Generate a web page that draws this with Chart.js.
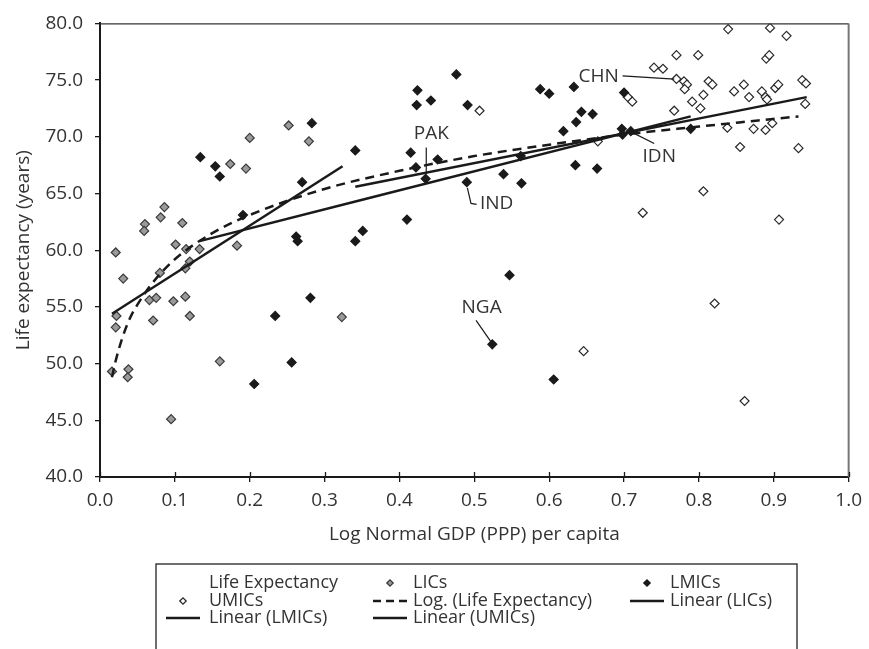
<!DOCTYPE html>
<html>
<head>
<meta charset="utf-8">
<script src="https://cdn.jsdelivr.net/npm/chart.js@4.4.1/dist/chart.umd.min.js"></script>
<style>
  html, body { margin: 0; padding: 0; background: #fff; }
  #wrap { width: 869px; height: 649px; }
</style>
</head>
<body>
<div id="wrap"><canvas id="chart" width="869" height="649"></canvas></div>
<script>
// data: [log normal GDP per capita, life expectancy]
const licPoints = [
  [0.016, 49.3], [0.021, 59.8], [0.031, 57.5], [0.022, 54.2], [0.021, 53.2], [0.038, 49.5],
  [0.037, 48.8], [0.060, 62.3], [0.059, 61.7], [0.081, 62.9], [0.086, 63.8], [0.110, 62.4],
  [0.101, 60.5], [0.115, 60.1], [0.133, 60.1], [0.183, 60.4], [0.120, 59.0], [0.114, 58.4],
  [0.080, 58.0], [0.066, 55.6], [0.075, 55.8], [0.098, 55.5], [0.114, 55.9], [0.071, 53.8],
  [0.120, 54.2], [0.095, 45.1], [0.160, 50.2], [0.174, 67.6], [0.195, 67.2], [0.200, 69.9],
  [0.252, 71.0], [0.279, 69.6], [0.323, 54.1]
];
const lmicPoints = [
  [0.134, 68.2], [0.154, 67.4], [0.160, 66.5], [0.191, 63.1], [0.270, 66.0], [0.262, 61.2],
  [0.264, 60.8], [0.281, 55.8], [0.234, 54.2], [0.206, 48.2], [0.256, 50.1], [0.283, 71.2],
  [0.341, 68.8], [0.415, 68.6], [0.451, 68.0], [0.422, 67.3], [0.435, 66.3], [0.490, 66.0],
  [0.539, 66.7], [0.563, 65.9], [0.562, 68.3], [0.635, 67.5], [0.410, 62.7], [0.351, 61.7],
  [0.341, 60.8], [0.547, 57.8], [0.524, 51.7], [0.606, 48.6], [0.476, 75.5], [0.424, 74.1],
  [0.423, 72.8], [0.442, 73.2], [0.491, 72.8], [0.588, 74.2], [0.600, 73.8], [0.633, 74.4],
  [0.643, 72.2], [0.658, 72.0], [0.636, 71.3], [0.619, 70.5], [0.700, 73.9], [0.697, 70.7],
  [0.698, 70.2], [0.709, 70.5], [0.664, 67.2], [0.789, 70.7]
];
const umicPoints = [
  [0.507, 72.3], [0.646, 51.1], [0.665, 69.6], [0.705, 73.5], [0.711, 73.1], [0.725, 63.3],
  [0.740, 76.1], [0.752, 76.0], [0.767, 72.3], [0.770, 77.2], [0.770, 75.1], [0.780, 74.9],
  [0.784, 74.6], [0.781, 74.2], [0.791, 73.1], [0.799, 77.2], [0.802, 72.5], [0.806, 73.7],
  [0.806, 65.2], [0.813, 74.9], [0.818, 74.6], [0.821, 55.3], [0.838, 70.8], [0.839, 79.5],
  [0.847, 74.0], [0.855, 69.1], [0.860, 74.6], [0.861, 46.7], [0.867, 73.5], [0.873, 70.7],
  [0.884, 74.0], [0.889, 73.5], [0.891, 73.3], [0.889, 70.6], [0.890, 76.9], [0.894, 77.2],
  [0.895, 79.6], [0.898, 71.2], [0.902, 74.3], [0.906, 74.6], [0.907, 62.7], [0.917, 78.9],
  [0.933, 69.0], [0.938, 75.0], [0.943, 74.7], [0.942, 72.9]
];

// trend lines as drawn in the reference
const licTrend = [[0.016, 54.4], [0.324, 67.4]];
const lmicTrend = [[0.133, 60.8], [0.789, 71.8]];
const umicTrend = [[0.341, 65.6], [0.944, 73.5]];
const logTrend = [
  [0.016, 48.8], [0.02, 50.0], [0.03, 52.3], [0.04, 54.0], [0.05, 55.2], [0.07, 57.1],
  [0.10, 59.2], [0.15, 61.5], [0.20, 63.1], [0.30, 65.4], [0.40, 67.0], [0.50, 68.3],
  [0.60, 69.3], [0.70, 70.2], [0.80, 70.9], [0.933, 71.8]
];

const xTicks = [0, 0.1, 0.2, 0.3, 0.4, 0.5, 0.6, 0.7, 0.8, 0.9, 1.0];
const yTicks = [40, 45, 50, 55, 60, 65, 70, 75, 80];

const FONT = "'Open Sans', 'DejaVu Sans', sans-serif";
const TEXT = '#333';
const INK = '#1a1a1a';

const toXY = pts => pts.map(([x, y]) => ({ x, y }));

const markerStyles = {
  lic: { fill: '#9a9a9a', stroke: '#3a3a3a' },
  lmic: { fill: '#1a1a1a', stroke: '#1a1a1a' },
  umic: { fill: '#ffffff', stroke: '#2a2a2a' }
};

function trend(label, pts, dash) {
  return {
    label, type: 'line', data: toXY(pts), showLine: true, fill: false,
    borderColor: INK, borderWidth: 2.5, borderDash: dash || [],
    pointRadius: 0, pointHoverRadius: 0, tension: 0, order: 0
  };
}
function scatter(label, pts, st) {
  return {
    label, type: 'scatter', data: toXY(pts), pointStyle: 'rectRot',
    pointRadius: 4.5, backgroundColor: st.fill, borderColor: st.stroke,
    borderWidth: 1.2, order: 1
  };
}

// callout labels (text anchor + leader line), in data units
const callouts = [
  { text: 'CHN', at: [0.693, 75.3], align: 'right', leader: [[0.698, 75.37], [0.767, 75.09]] },
  { text: 'PAK', at: [0.4426, 70.3], align: 'center', leader: [[0.4358, 69.06], [0.4358, 66.7]] },
  { text: 'IND', at: [0.5076, 64.07], align: 'left', leader: [[0.4907, 65.5], [0.4956, 64.13], [0.503, 64.04]] },
  { text: 'NGA', at: [0.5097, 54.91], align: 'center', leader: [[0.5023, 53.81], [0.523, 51.85]] },
  { text: 'IDN', at: [0.7247, 68.24], align: 'left', leader: [[0.7403, 69.41], [0.7114, 70.37]] }
];

const extras = {
  id: 'extras',
  afterDatasetsDraw(chart) {
    const { ctx, chartArea: a, scales: { x, y } } = chart;
    ctx.save();
    // frame top / right
    ctx.strokeStyle = '#333';
    ctx.lineWidth = 1.2;
    ctx.beginPath();
    ctx.moveTo(a.left, a.top + 0.5);
    ctx.lineTo(a.right, a.top + 0.5);
    ctx.stroke();
    ctx.strokeStyle = '#777';
    ctx.lineWidth = 2;
    ctx.beginPath();
    ctx.moveTo(a.right, a.top);
    ctx.lineTo(a.right, a.bottom);
    ctx.stroke();
    // x ticks cross the axis
    ctx.strokeStyle = INK;
    ctx.lineWidth = 1.3;
    xTicks.forEach(v => {
      const px = Math.round(x.getPixelForValue(v)) + 0.5;
      ctx.beginPath();
      ctx.moveTo(px, a.bottom - 5);
      ctx.lineTo(px, a.bottom);
      ctx.stroke();
    });
    // callouts
    ctx.font = '19px ' + FONT;
    ctx.fillStyle = TEXT;
    ctx.textBaseline = 'middle';
    callouts.forEach(c => {
      ctx.textAlign = c.align;
      ctx.fillText(c.text, x.getPixelForValue(c.at[0]), y.getPixelForValue(c.at[1]));
      ctx.strokeStyle = INK;
      ctx.lineWidth = 1.2;
      ctx.beginPath();
      c.leader.forEach(([lx, ly], i) => {
        const px = x.getPixelForValue(lx), py = y.getPixelForValue(ly);
        if (i === 0) ctx.moveTo(px, py); else ctx.lineTo(px, py);
      });
      ctx.stroke();
    });
    ctx.restore();
  },
  afterDraw(chart) {
    const { ctx } = chart;
    const colText = [209, 413, 670];
    const colMark = [183, 390, 647];
    const rowY = [583, 601, 618];
    const items = [
      { text: 'Life Expectancy', c: 0, r: 0 },
      { text: 'LICs', c: 1, r: 0, m: 'lic' },
      { text: 'LMICs', c: 2, r: 0, m: 'lmic' },
      { text: 'UMICs', c: 0, r: 1, m: 'umic' },
      { text: 'Log. (Life Expectancy)', c: 1, r: 1, line: 'dash' },
      { text: 'Linear (LICs)', c: 2, r: 1, line: 'solid' },
      { text: 'Linear (LMICs)', c: 0, r: 2, line: 'solid' },
      { text: 'Linear (UMICs)', c: 1, r: 2, line: 'solid' }
    ];
    ctx.save();
    ctx.strokeStyle = '#222';
    ctx.lineWidth = 1.3;
    ctx.strokeRect(156, 564, 641, 100);
    ctx.font = '18px ' + FONT;
    ctx.fillStyle = TEXT;
    ctx.textAlign = 'left';
    ctx.textBaseline = 'middle';
    items.forEach(it => {
      const ty = rowY[it.r];
      ctx.fillStyle = TEXT;
      ctx.fillText(it.text, colText[it.c], ty);
      if (it.m) {
        const st = markerStyles[it.m];
        ctx.fillStyle = st.fill;
        ctx.strokeStyle = st.stroke;
        Chart.helpers.drawPoint(ctx, { pointStyle: 'rectRot', radius: 3.2, borderWidth: 1 }, colMark[it.c], ty);
      }
      if (it.line) {
        ctx.strokeStyle = INK;
        ctx.lineWidth = 2.5;
        ctx.setLineDash(it.line === 'dash' ? [8, 5] : []);
        ctx.beginPath();
        ctx.moveTo(colMark[it.c] - 17, ty);
        ctx.lineTo(colMark[it.c] + 17, ty);
        ctx.stroke();
        ctx.setLineDash([]);
      }
    });
    ctx.restore();
  }
};

new Chart(document.getElementById('chart'), {
  type: 'scatter',
  data: {
    datasets: [
      trend('Linear (LICs)', licTrend),
      trend('Linear (LMICs)', lmicTrend),
      trend('Linear (UMICs)', umicTrend),
      trend('Log. (Life Expectancy)', logTrend, [9, 6]),
      scatter('LICs', licPoints, markerStyles.lic),
      scatter('LMICs', lmicPoints, markerStyles.lmic),
      scatter('UMICs', umicPoints, markerStyles.umic)
    ]
  },
  options: {
    responsive: false,
    animation: false,
    devicePixelRatio: 1,
    layout: { padding: { left: 8, right: 17, top: 17, bottom: 99 } },
    plugins: { legend: { display: false }, tooltip: { enabled: false } },
    elements: { line: { cubicInterpolationMode: 'monotone' } },
    scales: {
      x: {
        type: 'linear', min: 0, max: 1,
        afterBuildTicks: s => { s.ticks = xTicks.map(v => ({ value: v })); },
        afterFit: s => { s.height = 73; },
        grid: { drawOnChartArea: false, tickLength: 5, color: INK, lineWidth: 1.3 },
        border: { color: INK, width: 2 },
        ticks: { color: TEXT, font: { family: FONT, size: 19 }, padding: 7, maxRotation: 0,
          callback: v => v.toFixed(1) },
        title: { display: true, text: 'Log Normal GDP (PPP) per capita', color: TEXT,
          font: { family: FONT, size: 19 } }
      },
      y: {
        type: 'linear', min: 40, max: 80,
        afterBuildTicks: s => { s.ticks = yTicks.map(v => ({ value: v })); },
        afterFit: s => { s.width = 92; },
        grid: { drawOnChartArea: false, tickLength: 5, color: INK, lineWidth: 1.3 },
        border: { color: INK, width: 2 },
        ticks: { color: TEXT, font: { family: FONT, size: 19 }, padding: 12,
          callback: v => v.toFixed(1) },
        title: { display: true, text: 'Life expectancy (years)', color: TEXT,
          font: { family: FONT, size: 19 } }
      }
    }
  },
  plugins: [extras]
});
</script>
</body>
</html>
